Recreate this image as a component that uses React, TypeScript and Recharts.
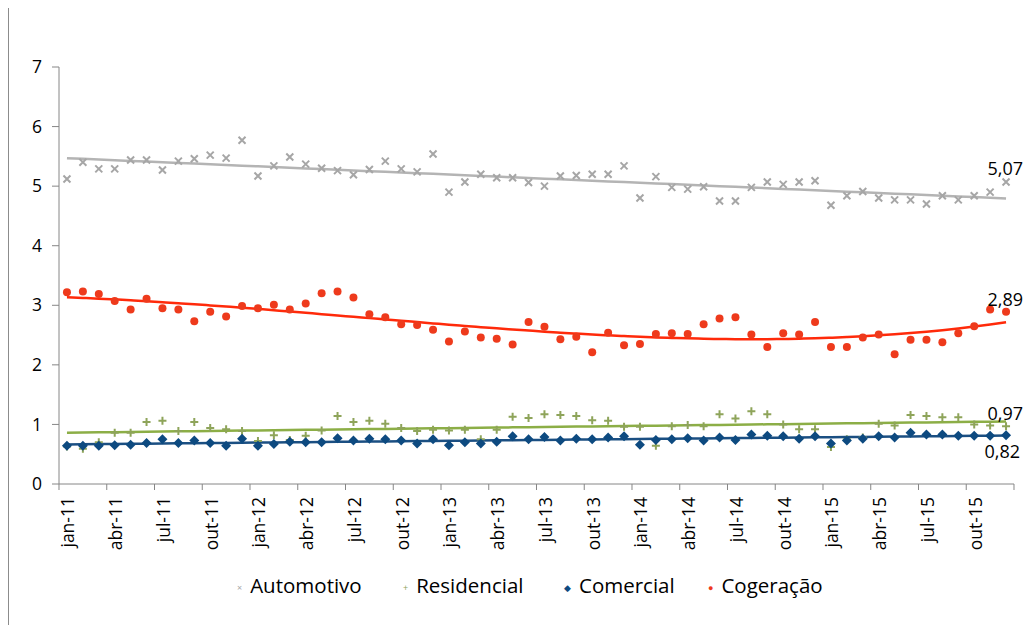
import { ComposedChart, Line, XAxis, YAxis, LabelList } from "recharts"

const monthNames = ["jan", "fev", "mar", "abr", "mai", "jun", "jul", "ago", "set", "out", "nov", "dez"]
const years = ["11", "12", "13", "14", "15"]
const categories = years.flatMap((y) => monthNames.map((m) => `${m}-${y}`))

const automotivo = [
  5.12, 5.4, 5.29, 5.29, 5.44, 5.44, 5.27, 5.42, 5.46, 5.52, 5.47, 5.77,
  5.17, 5.34, 5.49, 5.37, 5.3, 5.26, 5.19, 5.28, 5.42, 5.29, 5.24, 5.54,
  4.9, 5.07, 5.2, 5.14, 5.14, 5.06, 5.0, 5.17, 5.18, 5.2, 5.2, 5.34,
  4.8, 5.16, 4.98, 4.95, 4.99, 4.75, 4.75, 4.98, 5.07, 5.03, 5.07, 5.09,
  4.68, 4.84, 4.91, 4.8, 4.77, 4.77, 4.7, 4.84, 4.77, 4.84, 4.9, 5.07,
]
const residencial = [
  0.63, 0.59, 0.7, 0.86, 0.86, 1.04, 1.06, 0.89, 1.04, 0.94, 0.92, 0.89,
  0.72, 0.82, 0.74, 0.81, 0.9, 1.14, 1.04, 1.06, 1.01, 0.94, 0.89, 0.91,
  0.9, 0.91, 0.75, 0.91, 1.13, 1.11, 1.17, 1.16, 1.14, 1.07, 1.06, 0.96,
  0.96, 0.64, 0.97, 0.99, 0.97, 1.17, 1.1, 1.22, 1.17, 1.0, 0.92, 0.92,
  0.62, 0.75, 0.78, 1.01, 0.98, 1.16, 1.14, 1.12, 1.12, 1.0, 0.98, 0.97,
]
const comercial = [
  0.64, 0.64, 0.64, 0.65, 0.66, 0.69, 0.75, 0.69, 0.73, 0.69, 0.64, 0.76,
  0.64, 0.67, 0.71, 0.7, 0.7, 0.77, 0.73, 0.76, 0.75, 0.73, 0.68, 0.75,
  0.65, 0.7, 0.68, 0.71, 0.8, 0.75, 0.79, 0.73, 0.76, 0.75, 0.78, 0.8,
  0.66, 0.74, 0.75, 0.77, 0.73, 0.78, 0.74, 0.83, 0.81, 0.8, 0.76, 0.8,
  0.68, 0.73, 0.76, 0.8, 0.78, 0.86, 0.83, 0.83, 0.81, 0.81, 0.81, 0.82,
]
const cogeracao = [
  3.22, 3.23, 3.19, 3.07, 2.93, 3.11, 2.95, 2.93, 2.73, 2.89, 2.81, 2.99,
  2.95, 3.01, 2.93, 3.03, 3.2, 3.23, 3.13, 2.85, 2.8, 2.68, 2.67, 2.59,
  2.39, 2.56, 2.46, 2.44, 2.34, 2.72, 2.64, 2.43, 2.47, 2.21, 2.54, 2.33,
  2.35, 2.52, 2.53, 2.52, 2.68, 2.78, 2.8, 2.51, 2.3, 2.53, 2.51, 2.72,
  2.3, 2.3, 2.46, 2.51, 2.18, 2.42, 2.42, 2.38, 2.53, 2.65, 2.93, 2.89,
]
const yTicks = [0, 1, 2, 3, 4, 5, 6, 7]

// least squares polynomial trend, like the spreadsheet trendlines
function polyFit(ys: number[], degree: number) {
  const n = degree + 1
  const A = Array.from({ length: n }, () => new Array(n + 1).fill(0))
  ys.forEach((y, i) => {
    const x = (i + 1) / 10
    for (let r = 0; r < n; r++) {
      for (let c = 0; c < n; c++) A[r][c] += Math.pow(x, r + c)
      A[r][n] += y * Math.pow(x, r)
    }
  })
  for (let p = 0; p < n; p++) {
    let best = p
    for (let r = p + 1; r < n; r++) if (Math.abs(A[r][p]) > Math.abs(A[best][p])) best = r
    ;[A[p], A[best]] = [A[best], A[p]]
    for (let r = 0; r < n; r++) {
      if (r === p) continue
      const f = A[r][p] / A[p][p]
      for (let c = p; c <= n; c++) A[r][c] -= f * A[p][c]
    }
  }
  const coef = A.map((row, i) => row[n] / row[i])
  return ys.map((_, i) => coef.reduce((s, c, k) => s + c * Math.pow((i + 1) / 10, k), 0))
}

const autoTrend = polyFit(automotivo, 1)
const resTrend = polyFit(residencial, 1)
const comTrend = polyFit(comercial, 1)
const cogTrend = polyFit(cogeracao, 3)

const data = categories.map((month, i) => ({
  month,
  automotivo: automotivo[i],
  residencial: residencial[i],
  comercial: comercial[i],
  cogeracao: cogeracao[i],
  autoTrend: autoTrend[i],
  resTrend: resTrend[i],
  comTrend: comTrend[i],
  cogTrend: cogTrend[i],
}))

const FONT = "'Open Sans', 'Noto Sans', sans-serif"
const W = 1017
const H = 617
const M = { top: 59, right: 11, left: 0, bottom: 0 }
const Y_AXIS_W = 51
const X_AXIS_H = H - M.top - 417
const BAND = (W - M.right - Y_AXIS_W) / categories.length

const GRAY = "#a6a6a6"
const GREEN = "#8ea45a"
const BLUE = "#0d4a80"
const RED = "#ee3a1c"

const XMark = (p: any) => {
  const { cx, cy } = p
  if (cx == null || cy == null) return null
  const s = 3.5
  return (
    <path d={`M${cx - s},${cy - s}L${cx + s},${cy + s}M${cx - s},${cy + s}L${cx + s},${cy - s}`} stroke={GRAY} strokeWidth={2} />
  )
}
const PlusMark = (p: any) => {
  const { cx, cy } = p
  if (cx == null || cy == null) return null
  const s = 4
  return <path d={`M${cx - s},${cy}L${cx + s},${cy}M${cx},${cy - s}L${cx},${cy + s}`} stroke={GREEN} strokeWidth={2} />
}
const DiamondMark = (p: any) => {
  const { cx, cy } = p
  if (cx == null || cy == null) return null
  const s = 5
  return <path d={`M${cx},${cy - s}L${cx + s},${cy}L${cx},${cy + s}L${cx - s},${cy}Z`} fill={BLUE} />
}
const DotMark = (p: any) => {
  const { cx, cy } = p
  if (cx == null || cy == null) return null
  return <circle cx={cx} cy={cy} r={4} fill={RED} />
}

const XTick = (p: any) => {
  const { x, y, payload } = p
  const last = payload.index === categories.length - 3
  return (
    <g transform={`translate(${x},${y})`}>
      <line x1={-BAND / 2} x2={-BAND / 2} y1={0} y2={6} stroke="#868686" />
      {last && <line x1={BAND * 2.5} x2={BAND * 2.5} y1={0} y2={6} stroke="#868686" />}
      <text
        transform="rotate(-90)"
        x={-13}
        y={1}
        dy="0.36em"
        textAnchor="end"
        fontSize={17.5}
        fontFamily={FONT}
        fill="#000"
      >
        {payload.value}
      </text>
    </g>
  )
}

const lastLabel = (fmtDx: number, fmtDy: number) => (p: any) => {
  const { x, y, value, index } = p
  if (index !== categories.length - 1) return null
  return (
    <text x={x + fmtDx} y={y + fmtDy} textAnchor="end" dominantBaseline="central" fontSize={18} fontFamily={FONT} fill="#000">
      {Number(value).toFixed(2).replace(".", ",")}
    </text>
  )
}

const legendItems = [
  { name: "Automotivo", color: GRAY, mark: "×", left: 236 },
  { name: "Residencial", color: GREEN, mark: "+", left: 402 },
  { name: "Comercial", color: BLUE, mark: "◆", left: 563 },
  { name: "Cogeração", color: RED, mark: "●", left: 707 },
]

export default function App() {
  return (
    <div
      style={{
        position: "relative",
        width: W,
        height: H + 8,
        marginTop: -8,
        borderLeft: "1px solid #8c8c8c",
        boxSizing: "border-box",
        overflow: "hidden",
      }}
    >
      <style>{"html,body{overflow:hidden}"}</style>
      <div style={{ position: "absolute", top: 8, left: -1 }}>
        <ComposedChart width={W} height={H} data={data} margin={M}>
          <XAxis
            dataKey="month"
            scale="band"
            interval={2}
            height={X_AXIS_H}
            tickLine={false}
            tickSize={0}
            tickMargin={0}
            axisLine={{ stroke: "#868686" }}
            tick={<XTick />}
          />
          <YAxis
            domain={[0, 7]}
            ticks={yTicks}
            width={Y_AXIS_W}
            tickSize={7}
            tickMargin={10}
            axisLine={{ stroke: "#868686" }}
            tickLine={{ stroke: "#868686" }}
            tick={{ fontSize: 17.5, fontFamily: FONT, fill: "#000" }}
          />
          <Line dataKey="autoTrend" stroke="#b4b4b4" strokeWidth={2.5} dot={false} activeDot={false} isAnimationActive={false} />
          <Line dataKey="resTrend" stroke="#8cae46" strokeWidth={2.5} dot={false} activeDot={false} isAnimationActive={false} />
          <Line dataKey="comTrend" stroke="#1b4f82" strokeWidth={2.5} dot={false} activeDot={false} isAnimationActive={false} />
          <Line type="monotone" dataKey="cogTrend" stroke="#ff2a0a" strokeWidth={2.5} dot={false} activeDot={false} isAnimationActive={false} />
          <Line dataKey="automotivo" stroke="none" dot={<XMark />} activeDot={false} isAnimationActive={false}>
            <LabelList dataKey="automotivo" content={lastLabel(17, -14)} />
          </Line>
          <Line dataKey="residencial" stroke="none" dot={<PlusMark />} activeDot={false} isAnimationActive={false}>
            <LabelList dataKey="residencial" content={lastLabel(17, -13)} />
          </Line>
          <Line dataKey="comercial" stroke="none" dot={<DiamondMark />} activeDot={false} isAnimationActive={false}>
            <LabelList dataKey="comercial" content={lastLabel(14, 16)} />
          </Line>
          <Line dataKey="cogeracao" stroke="none" dot={<DotMark />} activeDot={false} isAnimationActive={false}>
            <LabelList dataKey="cogeracao" content={lastLabel(17, -13)} />
          </Line>
        </ComposedChart>
      </div>
      {legendItems.map((it) => (
        <div
          key={it.name}
          style={{
            position: "absolute",
            top: 571,
            left: it.left - 8,
            fontFamily: FONT,
            fontSize: 20.5,
            color: "#000",
            whiteSpace: "nowrap",
            lineHeight: "28px",
          }}
        >
          <span style={{ color: it.color, fontSize: 9, marginRight: 8, verticalAlign: "middle" }}>{it.mark}</span>
          {it.name}
        </div>
      ))}
    </div>
  )
}
